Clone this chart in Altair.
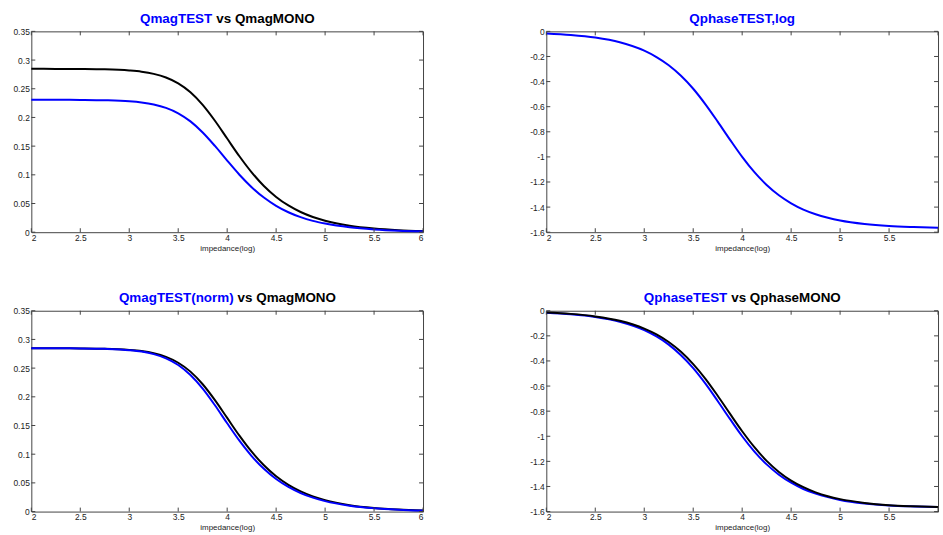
import altair as alt
import pandas as pd

# ---- data ----
x_vals = [2, 2.25, 2.5, 2.75, 3, 3.125, 3.25, 3.375, 3.5, 3.625, 3.75, 3.875,
          4, 4.125, 4.25, 4.375, 4.5, 4.625, 4.75, 4.875, 5, 5.25, 5.5, 5.75, 6]

qmag_test = [0.2309, 0.2308, 0.2306, 0.2300, 0.2282, 0.2261, 0.2225, 0.2166, 0.2072,
             0.1931, 0.1738, 0.1503, 0.1248, 0.1002, 0.0785, 0.0604, 0.0460, 0.0348,
             0.0262, 0.0197, 0.0150, 0.0085, 0.0048, 0.0026, 0.0015]
qmag_mono = [0.2847, 0.2846, 0.2844, 0.2838, 0.2818, 0.2797, 0.2759, 0.2696, 0.2594,
             0.2439, 0.2219, 0.1942, 0.1632, 0.1323, 0.1043, 0.0806, 0.0615, 0.0466,
             0.0352, 0.0265, 0.0199, 0.0112, 0.0063, 0.0035, 0.0020]
qmag_test_norm = [0.2847, 0.2846, 0.2844, 0.2836, 0.2813, 0.2788, 0.2744, 0.2671, 0.2555,
                  0.2380, 0.2143, 0.1853, 0.1539, 0.1236, 0.0968, 0.0745, 0.0567, 0.0429,
                  0.0323, 0.0243, 0.0182, 0.0103, 0.0058, 0.0033, 0.0018]
qphase_test = [-0.016, -0.028, -0.049, -0.087, -0.154, -0.205, -0.270, -0.354, -0.457,
               -0.581, -0.719, -0.862, -1.000, -1.122, -1.224, -1.306, -1.370, -1.420,
               -1.457, -1.485, -1.507, -1.535, -1.551, -1.559, -1.564]
qphase_mono = [-0.014, -0.025, -0.045, -0.080, -0.142, -0.188, -0.249, -0.327, -0.425,
               -0.542, -0.677, -0.820, -0.960, -1.087, -1.196, -1.284, -1.353, -1.406,
               -1.447, -1.478, -1.501, -1.531, -1.549, -1.558, -1.564]

x_ticks = [2, 2.5, 3, 3.5, 4, 4.5, 5, 5.5, 6]
mag_ticks = [0, 0.05, 0.1, 0.15, 0.2, 0.25, 0.3, 0.35]
phase_ticks = [-1.6, -1.4, -1.2, -1, -0.8, -0.6, -0.4, -0.2, 0]

x_title = "impedance(log)"

# ---- styling ----
W, H = 394, 202
BLUE = "#0000ff"
BLACK = "#000000"
TICK = "#444444"
FONT = "Liberation Sans"
TLEN = 4


def panel(series, ydomain, yticks, title_parts, hide_last_x=False):
    xs = alt.Scale(domain=[2, 6], nice=False, zero=False)
    ys = alt.Scale(domain=ydomain, nice=False, zero=False)
    xexpr = ("datum.value == 6 ? '' : '' + datum.value" if hide_last_x
             else "'' + datum.value")
    xaxis = alt.Axis(values=x_ticks, labelExpr=xexpr, title=x_title)
    yaxis = alt.Axis(values=yticks, labelExpr="'' + datum.value", title=None)
    X = alt.X("x:Q", scale=xs, axis=xaxis)
    Y = alt.Y("y:Q", scale=ys, axis=yaxis)

    layers = []
    for vals, color in series:
        df = pd.DataFrame({"x": x_vals, "y": vals})
        layers.append(
            alt.Chart(df).mark_line(color=color, strokeWidth=2,
                                    interpolate="monotone").encode(x=X, y=Y)
        )

    xt = pd.DataFrame({"x": x_ticks})
    yt = pd.DataFrame({"y": yticks})
    layers.append(alt.Chart(xt).mark_rule(color=TICK, strokeWidth=1).encode(
        x=X, y=alt.value(H), y2=alt.value(H - TLEN)))
    layers.append(alt.Chart(xt).mark_rule(color=TICK, strokeWidth=1).encode(
        x=X, y=alt.value(0), y2=alt.value(TLEN)))
    layers.append(alt.Chart(yt).mark_rule(color=TICK, strokeWidth=1).encode(
        y=Y, x=alt.value(0), x2=alt.value(TLEN)))
    layers.append(alt.Chart(yt).mark_rule(color=TICK, strokeWidth=1).encode(
        y=Y, x=alt.value(W), x2=alt.value(W - TLEN)))

    one = pd.DataFrame({"k": [0]})
    for text, color, align, xpos in title_parts:
        layers.append(
            alt.Chart(one).mark_text(text=text, color=color, align=align,
                                     baseline="alphabetic", font=FONT,
                                     fontSize=13.5, fontWeight="bold").encode(
                x=alt.value(xpos), y=alt.value(-8.5))
        )
    return alt.layer(*layers).properties(width=W, height=H)


p1 = panel([(qmag_mono, BLACK), (qmag_test, BLUE)], [0, 0.35], mag_ticks,
           [("QmagTEST", BLUE, "right", 182), ("vs QmagMONO", BLACK, "left", 186)])
p2 = panel([(qphase_test, BLUE)], [-1.6, 0], phase_ticks,
           [("QphaseTEST,log", BLUE, "center", W / 2)], hide_last_x=True)
p3 = panel([(qmag_mono, BLACK), (qmag_test_norm, BLUE)], [0, 0.35], mag_ticks,
           [("QmagTEST(norm)", BLUE, "right", 203.5),
            ("vs QmagMONO", BLACK, "left", 207.5)])
p4 = panel([(qphase_test, BLUE), (qphase_mono, BLACK)], [-1.6, 0], phase_ticks,
           [("QphaseTEST", BLUE, "right", 182), ("vs QphaseMONO", BLACK, "left", 186)],
           hide_last_x=True)

chart = alt.concat(p1, p2, p3, p4, columns=2,
                   spacing={"row": 79, "column": 124}, bounds="flush").properties(
    padding={"left": 11.5, "top": 10, "right": 0, "bottom": 0},
    autosize=alt.AutoSizeParams(type="pad"),
    background="white",
).configure_view(
    stroke="#444444", strokeWidth=1, fill="white"
).configure_axis(
    domain=False, ticks=False, tickSize=0, grid=False,
    labelFont=FONT, labelFontSize=8.5, labelColor="#222222",
    titleFont=FONT, titleFontSize=8, titleFontWeight="normal", titleColor="#222222",
).configure_axisX(
    labelPadding=1, titlePadding=3
).configure_axisY(
    labelPadding=2
)

chart.save("out.html", embed_options={"renderer": "svg", "actions": False})
